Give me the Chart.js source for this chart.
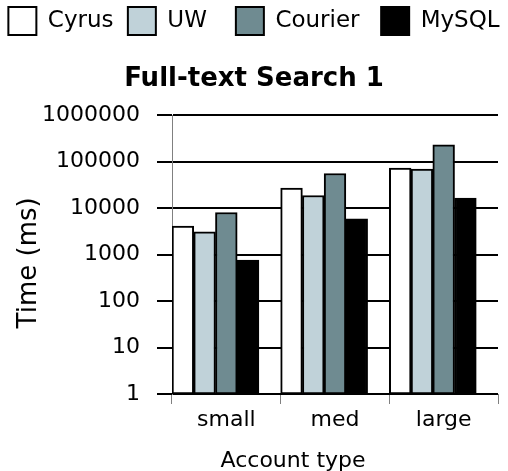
<!DOCTYPE html>
<html>
<head>
<meta charset="utf-8">
<script src="https://cdn.jsdelivr.net/npm/chart.js@4/dist/chart.umd.min.js"></script>
<style>
    body { margin: 0; background: #fff; }
    #wrap { width: 508px; height: 471px; }
</style>
</head>
<body>
<div id="wrap"><canvas id="searchChart" width="508" height="471"></canvas></div>
<script>
// chart values
const categories = ['small', 'med', 'large'];
const seriesNames = ['Cyrus', 'UW', 'Courier', 'MySQL'];
const cyrus = [4130, 27000, 72800];
const uw = [3090, 18700, 69200];
const courier = [8040, 55700, 231000];
const mysql = [760, 5880, 16400];
const yTicks = [1, 10, 100, 1000, 10000, 100000, 1000000];

const font = 'DejaVu Sans';
// extra space after each legend entry (in spaces) to spread the row like the picture
const legendGap = [1, 3, 2, 0];

function series(label, data, color) {
    return {
        label: label,
        data: data,
        backgroundColor: color,
        borderColor: '#000',
        borderWidth: 2,
        borderSkipped: false
    };
}

const ctx = document.getElementById('searchChart').getContext('2d');
new Chart(ctx, {
    type: 'bar',
    data: {
        labels: categories,
        datasets: [
            series(seriesNames[0], cyrus, '#ffffff'),
            series(seriesNames[1], uw, '#c0d2d9'),
            series(seriesNames[2], courier, '#6f8b91'),
            series(seriesNames[3], mysql, '#000000'),
            // empty slot so the groups sit at the left of each category
            { label: '', data: [null, null, null], backgroundColor: 'rgba(0,0,0,0)', borderWidth: 0 }
        ]
    },
    options: {
        responsive: false,
        devicePixelRatio: 1,
        animation: false,
        datasets: { bar: { categoryPercentage: 1, barPercentage: 1 } },
        layout: { padding: 0 },
        plugins: {
            tooltip: { enabled: false },
            legend: {
                position: 'top',
                weight: 3000,
                labels: {
                    color: '#000',
                    font: { family: font, size: 23 },
                    boxWidth: 28,
                    boxHeight: 28,
                    padding: 7,
                    generateLabels: chart => {
                        const items = Chart.defaults.plugins.legend.labels.generateLabels(chart);
                        items.forEach((item, i) => {
                            if (i < legendGap.length) item.text += ' '.repeat(legendGap[i]);
                        });
                        return items;
                    },
                    filter: item => item.text !== ''
                }
            },
            title: {
                display: true,
                weight: 500,
                text: 'Full-text Search 1',
                color: '#000',
                font: { family: font, size: 26, weight: 'bold' },
                padding: { top: 19, bottom: 20 }
            }
        },
        scales: {
            x: {
                afterFit: scale => { scale.height = 77; },
                grid: { drawOnChartArea: false, drawTicks: true, tickLength: 10, color: '#808080', lineWidth: 1 },
                border: { display: false },
                ticks: { color: '#000', font: { family: font, size: 22 }, padding: 3 },
                title: {
                    display: true,
                    // trailing spaces move the centred title left, as in the picture
                    text: 'Account type            ',
                    color: '#000',
                    font: { family: font, size: 22 },
                    padding: { top: 0, bottom: -3 }
                }
            },
            y: {
                type: 'logarithmic',
                min: 1,
                max: 1000000,
                afterFit: scale => { scale.width = 172; },
                afterBuildTicks: scale => { scale.ticks = yTicks.map(v => ({ value: v })); },
                grid: { color: '#000', lineWidth: 2, tickLength: 15, drawTicks: true },
                border: { color: '#808080', width: 1 },
                ticks: {
                    color: '#000',
                    font: { family: font, size: 22 },
                    padding: 17,
                    callback: v => String(v)
                },
                title: {
                    display: true,
                    text: 'Time (ms)  ',
                    color: '#000',
                    font: { family: font, size: 26 },
                    padding: { top: 14, bottom: 0 }
                }
            },
            // empty strip on the right so the plot ends where the picture's does
            edge: {
                position: 'right',
                afterFit: scale => { scale.width = 10; },
                grid: { display: false },
                border: { display: false },
                ticks: { display: false }
            }
        }
    }
});
</script>
</body>
</html>
